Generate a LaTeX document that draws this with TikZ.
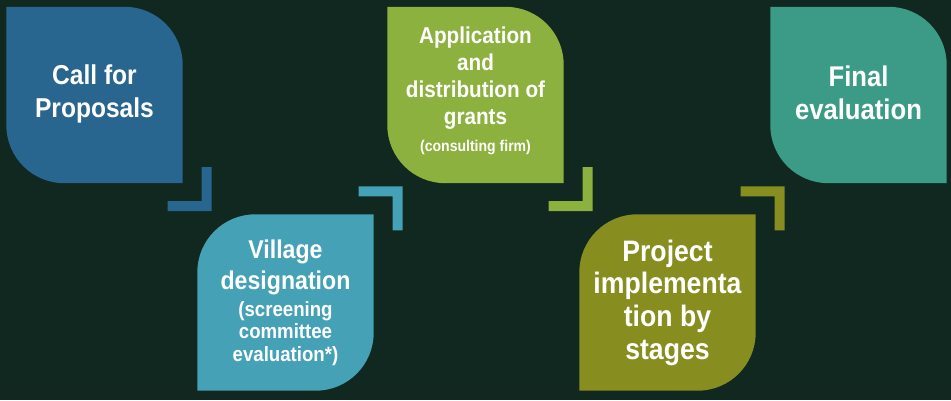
\documentclass[tikz,border=0pt]{standalone}
\usepackage{fontspec}
\setmainfont{Liberation Sans}[FakeStretch=0.9]
\usetikzlibrary{backgrounds,calc}
\definecolor{bgc}{HTML}{10281F}
\definecolor{cone}{HTML}{29668F}
\definecolor{ctwo}{HTML}{45A1B6}
\definecolor{cthree}{HTML}{8DB13F}
\definecolor{cfour}{HTML}{878D1E}
\definecolor{cfive}{HTML}{3B9B86}
\tikzset{
  stepbox/.style={minimum width=176pt, minimum height=176pt, inner sep=0pt},
  steptext/.style={inner sep=0pt, text=white, align=center},
}
\newcommand\leafa[2]{\fill[#2] (#1.north west) -- ([xshift=-58pt]#1.north east)
  arc[start angle=90,end angle=0,radius=58pt] -- (#1.south east)
  -- ([xshift=58pt]#1.south west) arc[start angle=270,end angle=180,radius=58pt] -- cycle;}
\newcommand\leafb[2]{\fill[#2] ([yshift=-58pt]#1.north west)
  arc[start angle=180,end angle=90,radius=58pt] -- (#1.north east)
  -- ([yshift=58pt]#1.south east) arc[start angle=0,end angle=-90,radius=58pt]
  -- (#1.south west) -- cycle;}
\newcommand\brdown[2]{\fill[#2] ($(#1.south east)+(29,-28)$) -- ++(0,44) -- ++(-10,0)
  -- ++(0,-34) -- ++(-34,0) -- ++(0,-10) -- cycle;}
\newcommand\brup[2]{\fill[#2] ($(#1.north east)+(29,28)$) -- ++(0,-44) -- ++(-10,0)
  -- ++(0,34) -- ++(-34,0) -- ++(0,10) -- cycle;}
\newcommand\smtwo{\fontsize{20.7}{22.5}\selectfont}
\newcommand\smthree{\fontsize{15.6}{26.7}\selectfont}
\begin{document}
\begin{tikzpicture}[x=1pt,y=1pt]
\useasboundingbox (0,0) rectangle (951,400);
\node[stepbox] (b1) at (94.5,305) {};
\node[stepbox] (b2) at (285.5,97.5) {};
\node[stepbox] (b3) at (475.5,305) {};
\node[stepbox] (b4) at (667.5,97.5) {};
\node[stepbox] (b5) at (858.5,305) {};
\begin{scope}[on background layer]
\fill[bgc] (0,0) rectangle (951,400);
\leafa{b1}{cone}
\leafb{b2}{ctwo}
\leafa{b3}{cthree}
\leafb{b4}{cfour}
\leafa{b5}{cfive}
\brdown{b1}{cone}
\brup{b2}{ctwo}
\brdown{b3}{cthree}
\brup{b4}{cfour}
\end{scope}
\node[steptext, font=\bfseries\fontsize{27.3}{33.3}\selectfont] (t1) at ([yshift=1]b1.center) {Call for\\Proposals};
\node[steptext, font=\bfseries\fontsize{25.7}{31}\selectfont] (t2) at (b2.center)
  {Village\\designation\\[-3.7pt]\smtwo(screening\\[-9.3pt]\smtwo committee\\[-7.7pt]\smtwo evaluation*)};
\node[steptext, font=\bfseries\fontsize{23}{27}\selectfont] (t3) at ([yshift=4]b3.center)
  {Application\\and\\distribution of\\grants\\\smthree(consulting firm)};
\node[steptext, font=\bfseries\fontsize{29.6}{32.7}\selectfont] (t4) at (b4.center)
  {Project\\implementa\\tion by\\stages};
\node[steptext, font=\bfseries\fontsize{28.5}{33.3}\selectfont] (t5) at ([yshift=2]b5.center) {Final\\evaluation};
\end{tikzpicture}
\end{document}
